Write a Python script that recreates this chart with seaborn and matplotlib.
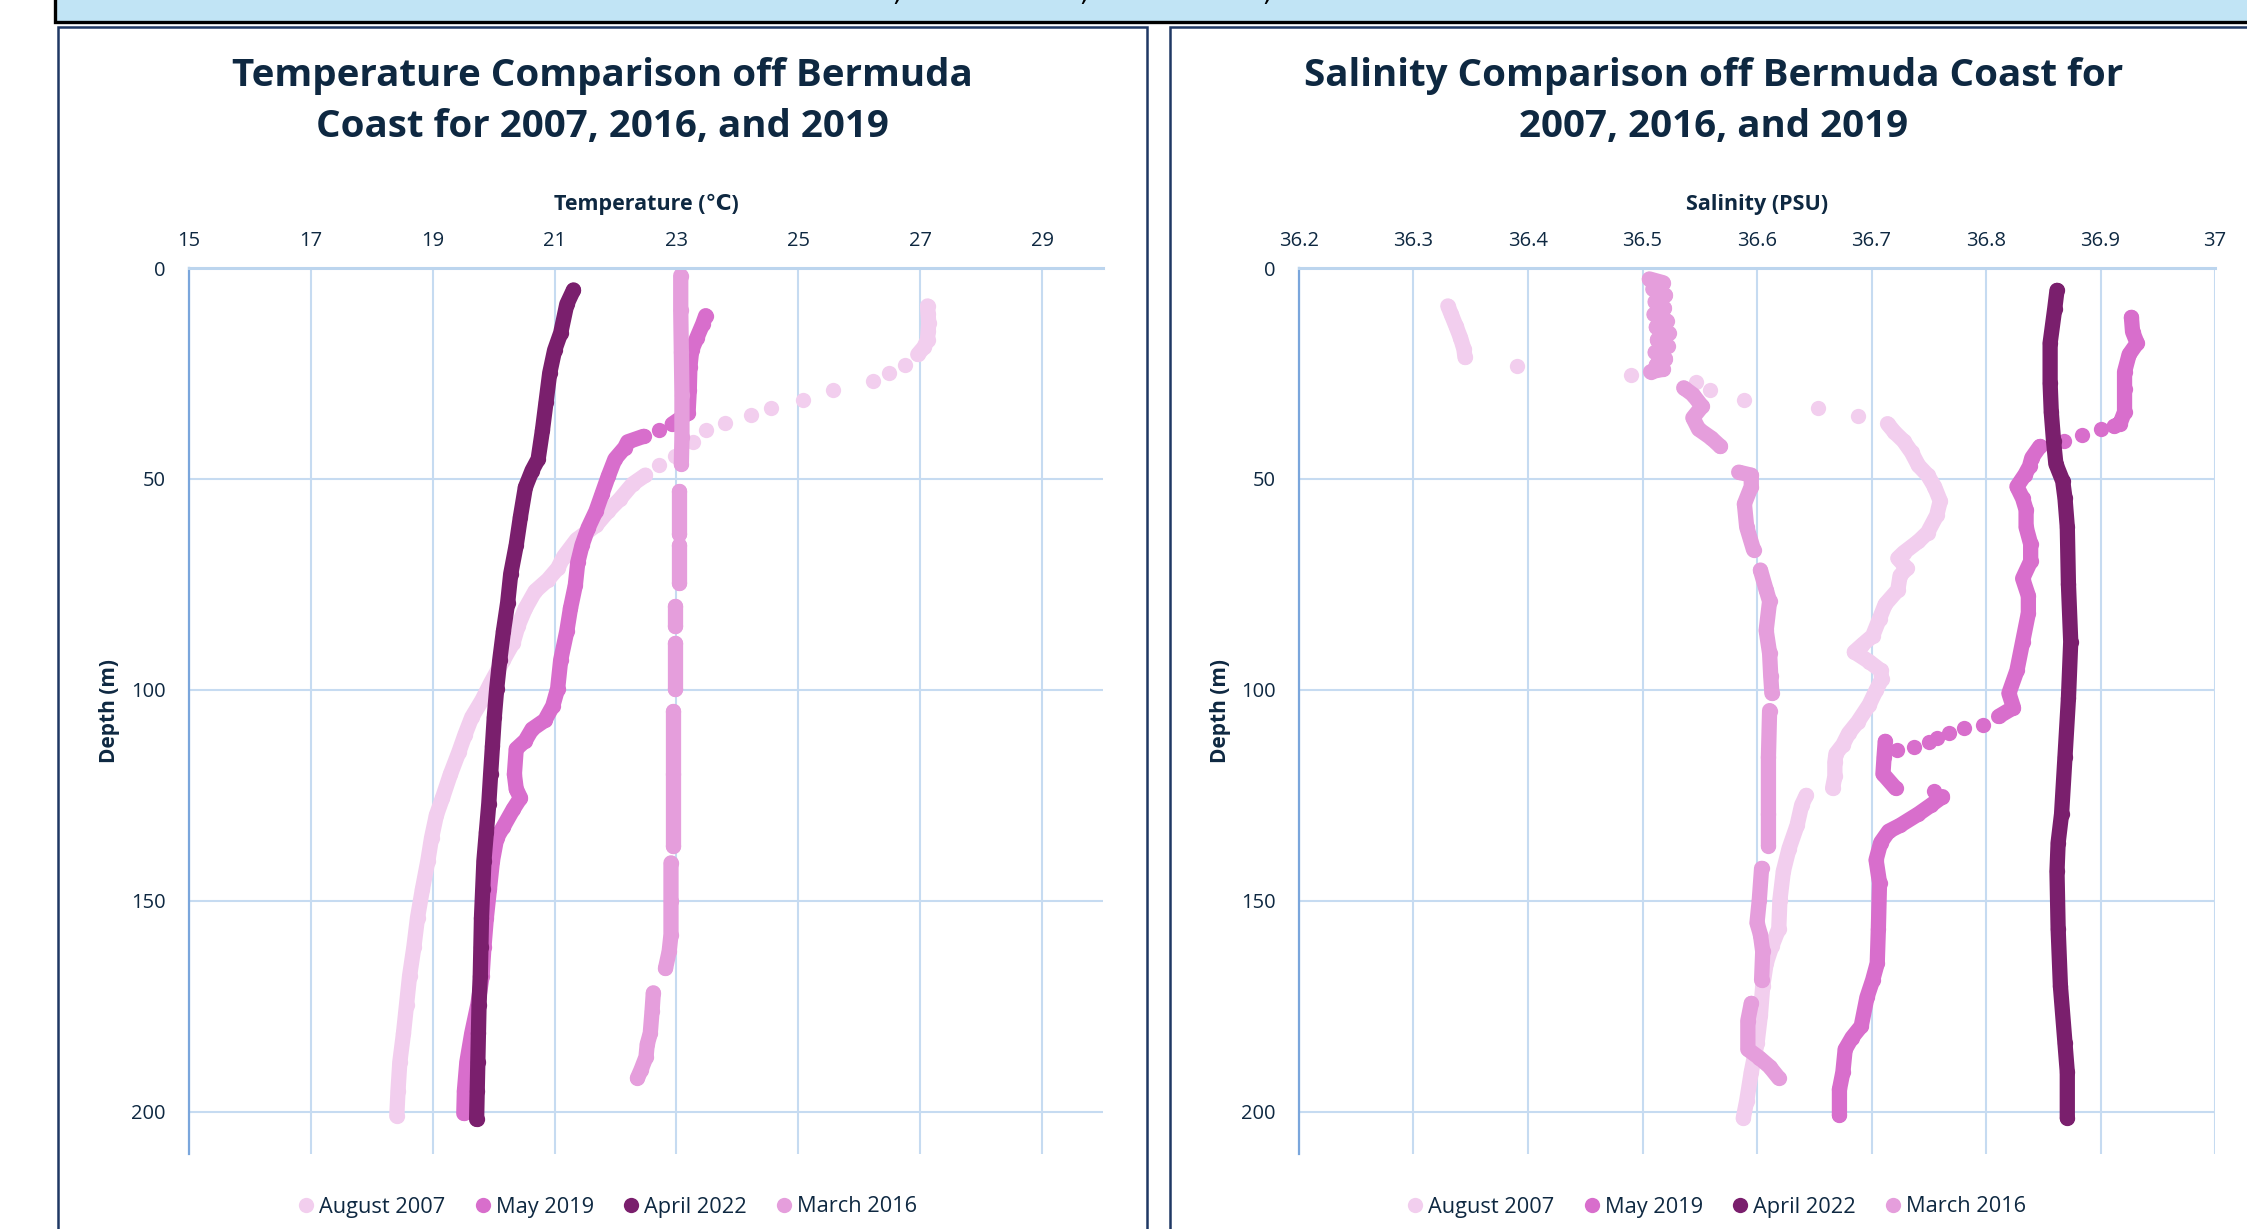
import numpy as np
import pandas as pd
import matplotlib
matplotlib.use("Agg")
import matplotlib.pyplot as plt
from matplotlib.patches import Rectangle
from matplotlib.lines import Line2D
import seaborn as sns

# ------------------------------------------------------------------ data
series_names = ["August 2007", "May 2019", "April 2022", "March 2016"]
series_colors = ["#F2CEEE", "#D86ECC", "#7A1F6D", "#E59EDC"]

temp_ticks = [15, 17, 19, 21, 23, 25, 27, 29]
sal_ticks = [36.2, 36.3, 36.4, 36.5, 36.6, 36.7, 36.8, 36.9, 37.0]
sal_tick_labels = ["36.2", "36.3", "36.4", "36.5", "36.6", "36.7", "36.8", "36.9", "37"]
depth_ticks = [0, 50, 100, 150, 200]

# None marks a break in the cast (gap between recorded points)
aug2007_temp_depth = [9, 11, 13, 15, 17, 18.8, 20.5, None, 23.1, None, 24.9, None, 26.9, None, 29, None,
                      31.2, None, 33.1, None, 34.8, None, 36.7, None, 38.5, None, 41.2, None, 44.6, None,
                      46.7, None, 49.1, 51.2, 54.8, 57.6, 61, 64.4, 68.4, 71.2, 73.9, 76.6, 80.7, 84.8,
                      88.8, 92.9, 98.4, 102.4, 106.5, 110.6, 114.7, 120, 125.6, 129.7, 135.1, 140.5,
                      147.3, 154, 161, 167.8, 174.6, 181.4, 188.2, 195, 201]
aug2007_temp_c = [27.12, 27.13, 27.14, 27.13, 27.12, 27.06, 26.96, None, 26.75, None, 26.49, None, 26.23, None,
                  25.57, None, 25.08, None, 24.55, None, 24.22, None, 23.80, None, 23.48, None, 23.27, None,
                  22.98, None, 22.72, None, 22.49, 22.28, 22.07, 21.88, 21.68, 21.36, 21.15, 21.05, 20.89,
                  20.68, 20.52, 20.40, 20.32, 20.16, 19.95, 19.81, 19.64, 19.53, 19.43, 19.29, 19.16, 19.06,
                  18.98, 18.92, 18.83, 18.75, 18.69, 18.62, 18.57, 18.52, 18.46, 18.43, 18.41]

may2019_temp_depth = [11.3, 13.3, 16.7, 19.5, 23.5, 29, 34.4, 37, None, 38.5, None, 39.9, 41.2, 42.6, 45.3,
                      49.4, 53.5, 57.6, 61.6, 65.7, 69.8, 75.2, 80.7, 86.1, 92.9, 99.7, 103.8, 107.2,
                      109.3, 112, 114, 120, 123.5, 125.6, 128.3, 132.4, 135.1, 140.5, 147.3, 154, 161,
                      167.8, 174.6, 181.4, 188.2, 195, 200.4]
may2019_temp_c = [23.48, 23.43, 23.33, 23.25, 23.22, 23.21, 23.19, 22.93, None, 22.72, None, 22.46, 22.20,
                  22.15, 21.99, 21.88, 21.78, 21.68, 21.55, 21.45, 21.38, 21.34, 21.26, 21.20, 21.10, 21.05,
                  20.97, 20.84, 20.63, 20.52, 20.37, 20.34, 20.37, 20.44, 20.32, 20.16, 20.05, 19.98, 19.93,
                  19.88, 19.84, 19.81, 19.74, 19.64, 19.56, 19.52, 19.51]

apr2022_temp_depth = [5.2, 8.6, 15.4, 19.5, 24.9, 31.7, 38.5, 45.3, 48, 52, 58.9, 65.7, 72.5, 79.3, 86.1,
                      92.9, 99.7, 106.5, 113.3, 120, 127, 133.7, 140.5, 147.3, 154, 161, 167.8, 174.6,
                      181.4, 188.2, 195, 201.8]
apr2022_temp_c = [21.31, 21.20, 21.10, 21.00, 20.92, 20.86, 20.80, 20.73, 20.63, 20.52, 20.44, 20.37, 20.28,
                  20.23, 20.16, 20.10, 20.05, 20.01, 19.98, 19.95, 19.92, 19.88, 19.84, 19.82, 19.80, 19.79,
                  19.78, 19.76, 19.75, 19.74, 19.73, 19.72]

mar2016_temp_depth = [1.8, 10, 20, 30, 40, 46.5, None, 52.8, 63, None, 65.7, 74.6, None, 80, 84.8, None,
                      88.8, 99.7, None, 105, 120, 137, None, 141, 150, 158, 162, 166, None,
                      171.8, 176, 181.4, 184, 187, 190, 192]
mar2016_temp_c = [23.07, 23.07, 23.08, 23.09, 23.09, 23.08, None, 23.04, 23.04, None, 23.04, 23.04, None,
                  22.98, 22.98, None, 22.98, 22.98, None, 22.95, 22.95, 22.95, None, 22.91, 22.91, 22.91,
                  22.88, 22.82, None, 22.62, 22.60, 22.57, 22.52, 22.50, 22.42, 22.36]

aug2007_sal_depth = [9, 11, 13.7, 16.5, 19.2, 21.2, None, 23.3, None, 25.3, None, 27.1, None, 29, None, 31.4,
                     None, 33.2, None, 35.1, None, 36.9, 38.9, 41, 43.7, 46.8, 49.1, 51.8, 55.2, 58.6, 62.7,
                     64.8, 67.5, 68.8, 71.2, 72.9, 76.3, 79.7, 83.1, 87.2, 89.3, 91, 93.3, 95.4, 97.4,
                     100.1, 103.5, 107.6, 110.3, 113, 115.1, 117.1, 120.5, 123.3, None, 125, 127.3, 132.1,
                     137.6, 143, 149.8, 156.6, 160.7, 164.8, 170.2, 177, 183.8, 190.6, 197.4, 201.5]
aug2007_sal_psu = [36.330, 36.333, 36.337, 36.341, 36.344, 36.345, None, 36.390, None, 36.490, None, 36.547,
                   None, 36.559, None, 36.589, None, 36.653, None, 36.688, None, 36.714, 36.720, 36.728,
                   36.735, 36.741, 36.749, 36.755, 36.760, 36.757, 36.749, 36.741, 36.728, 36.723, 36.731,
                   36.725, 36.723, 36.712, 36.707, 36.701, 36.692, 36.685, 36.698, 36.708, 36.709, 36.704,
                   36.698, 36.688, 36.680, 36.675, 36.669, 36.668, 36.668, 36.666, None, 36.643, 36.639,
                   36.635, 36.628, 36.623, 36.620, 36.619, 36.613, 36.608, 36.605, 36.603, 36.600, 36.595,
                   36.591, 36.588]

may2019_sal_depth = [11.7, 15.1, 17.8, 20.5, 24.6, 28.7, 34.1, 36.9, 37.5, None, 38.2, None, 39.6, None,
                     40.9, None, 42.3, 45, 47, 49, 51.8, 54.6, 57.3, 61.4, 65.4, 69.5, 73.6, 77.7, 81.8,
                     88.6, 95.4, 100.8, 104.2, 106.3, None, 108.3, None, 109, None, 110.3, None, 111.5,
                     None, 112.4, None, 113.5, None, 114.2, None, 112.2, 115.8, 119.9, 123.3, None,
                     124, None, 125.3, 127.3, 129.4, 132.1, 133.5, 136.2, 140.3, 145.7, 156.6, 164.8,
                     168.8, 172.9, 179.7, 182.4, 185.2, 190.6, 194.7, 200.8]
may2019_sal_psu = [36.927, 36.928, 36.932, 36.925, 36.921, 36.921, 36.921, 36.917, 36.912, None, 36.900,
                   None, 36.884, None, 36.868, None, 36.847, 36.840, 36.838, 36.834, 36.827, 36.832, 36.835,
                   36.835, 36.839, 36.839, 36.832, 36.837, 36.837, 36.832, 36.827, 36.820, 36.824, 36.811,
                   None, 36.797, None, 36.781, None, 36.768, None, 36.757, None, 36.750, None, 36.737,
                   None, 36.722, None, 36.712, 36.711, 36.710, 36.721, None, 36.755, None, 36.762, 36.752,
                   36.741, 36.725, 36.715, 36.708, 36.704, 36.707, 36.706, 36.705, 36.701, 36.696, 36.691,
                   36.683, 36.677, 36.675, 36.672, 36.672]

apr2022_sal_depth = [5.3, 9.7, 17.8, 27.3, 34.1, 41, 46.4, 50.5, 54.6, 61.4, 75, 88.6, 102, 115.8, 129.4,
                     136.2, 143, 156.6, 170.2, 183.8, 190.6, 201.5]
apr2022_sal_psu = [36.862, 36.860, 36.856, 36.856, 36.857, 36.859, 36.861, 36.867, 36.869, 36.871, 36.872,
                   36.874, 36.872, 36.869, 36.866, 36.863, 36.862, 36.863, 36.865, 36.869, 36.871, 36.871]

mar2016_sal_depth = [2.6, 3.5, 5, 6.5, 8, 9.5, 11, 12.5, 14, 15.5, 17, 18.5, 20, 21.5, 23, 24, 24.6, None,
                     28.4, 30, 32.8, 35.5, 38.2, 40.3, 42.3, None, 48.4, 49.1, 51.8, 55.9, 61.4, 66.8, None,
                     71.6, 76.3, 79, 85.9, 91.3, 96.7, 100.8, None, 104.9, 115.8, 129.4, 136.9, None,
                     142.3, 149.8, 155.2, 158, 162, 168.8, None, 174.3, 178.4, 185.2, 187.2, 189.3, 192]
mar2016_sal_psu = [36.506, 36.518, 36.509, 36.520, 36.511, 36.519, 36.510, 36.521, 36.512, 36.523, 36.513,
                   36.522, 36.511, 36.520, 36.512, 36.518, 36.507, None,
                   36.536, 36.544, 36.552, 36.544, 36.549, 36.560, 36.568, None,
                   36.584, 36.595, 36.595, 36.589, 36.591, 36.597, None, 36.603, 36.608, 36.611, 36.608,
                   36.611, 36.612, 36.613, None, 36.611, 36.610, 36.610, 36.610, None, 36.604, 36.602,
                   36.600, 36.603, 36.605, 36.604, None, 36.595, 36.592, 36.592, 36.602, 36.611, 36.619]

# ------------------------------------------------------------------ helpers
W, H = 2247, 1229
TEXT = "#0E2841"
GRID = "#C6DBF1"
FRAME = "#1F3864"
LW = 11.0


def long_table(pairs):
    rows = []
    for name, (depths, values) in zip(series_names, pairs):
        seg = 0
        for d, v in zip(depths, values):
            if d is None or v is None:
                seg += 1
                continue
            rows.append({"series": name, "segment": f"{name}-{seg}", "depth": d, "value": v})
    return pd.DataFrame(rows)


temp_df = long_table([(aug2007_temp_depth, aug2007_temp_c), (may2019_temp_depth, may2019_temp_c),
                      (apr2022_temp_depth, apr2022_temp_c), (mar2016_temp_depth, mar2016_temp_c)])
sal_df = long_table([(aug2007_sal_depth, aug2007_sal_psu), (may2019_sal_depth, may2019_sal_psu),
                     (apr2022_sal_depth, apr2022_sal_psu), (mar2016_sal_depth, mar2016_sal_psu)])

sns.set_style("white")
plt.rcParams["font.family"] = ["Open Sans", "DejaVu Sans"]

fig = plt.figure(figsize=(W / 100, H / 100), dpi=100)
fig.patch.set_facecolor("white")


def px_rect(x0, y0, x1, y1, **kw):
    return Rectangle((x0 / W, 1 - y1 / H), (x1 - x0) / W, (y1 - y0) / H,
                     transform=fig.transFigure, **kw)


# banner at top and chart frames
fig.patches.append(px_rect(55, -20, 2270, 22, facecolor="#C1E4F5", edgecolor="black", linewidth=2.4))
fig.patches.append(px_rect(58, 27, 1147, 1260, facecolor="none", edgecolor=FRAME, linewidth=1.8))
fig.patches.append(px_rect(1170, 27, 2260, 1260, facecolor="none", edgecolor=FRAME, linewidth=1.8))
for cx in (899, 1086, 1269):
    fig.text(cx / W, 1.0, ",", fontsize=22, style="italic", color="black", ha="center", va="baseline")


def add_axes(l, t, r, b):
    return fig.add_axes([l / W, 1 - b / H, (r - l) / W, (b - t) / H])


def draw_panel(ax, df, xlim, xticks, xticklabels, xlabel, title, frame_cx, legend_cx, ylab_x):
    sns.lineplot(data=df, x="value", y="depth", hue="series", hue_order=series_names,
                 palette=series_colors, units="segment", estimator=None, sort=False,
                 linewidth=LW, marker="o", markersize=LW, markeredgewidth=0,
                 solid_capstyle="round", solid_joinstyle="round", legend=False, ax=ax)
    ax.set_xlim(*xlim)
    ax.set_ylim(210, 0)
    ax.xaxis.tick_top()
    ax.xaxis.set_label_position("top")
    ax.set_xticks(xticks)
    ax.set_xticklabels(xticklabels)
    ax.set_yticks(depth_ticks)
    ax.set_yticklabels([str(v) for v in depth_ticks])
    ax.grid(True, color=GRID, linewidth=1.5)
    ax.set_axisbelow(True)
    ax.tick_params(axis="x", length=0, pad=12, labelsize=14.5, colors=TEXT)
    ax.tick_params(axis="y", length=0, pad=17, labelsize=14.5, colors=TEXT)
    for side in ("bottom", "right"):
        ax.spines[side].set_visible(False)
    ax.spines["top"].set_color("#BCD5EE")
    ax.spines["top"].set_linewidth(2.2)
    ax.spines["left"].set_color("#7AA6DC")
    ax.spines["left"].set_linewidth(1.6)
    ax.set_xlabel(xlabel, fontsize=15.5, fontweight="bold", color=TEXT)
    ax.xaxis.set_label_coords(0.5, 1.065)
    ax.set_ylabel("Depth (m)", fontsize=15, fontweight="bold", color=TEXT)
    ax.yaxis.set_label_coords(ylab_x, 0.5)
    fig.text(frame_cx / W, 1 - 101.5 / H, title, ha="center", va="center", fontsize=27.7,
             fontweight="bold", color=TEXT, linespacing=1.47)
    handles = [Line2D([], [], marker="o", linestyle="", color=c, markersize=11, markeredgewidth=0)
               for c in series_colors]
    ax.legend(handles, series_names, loc="center", ncol=4, frameon=False,
              bbox_to_anchor=(legend_cx / W, 1 - 1207 / H), bbox_transform=fig.transFigure,
              fontsize=15.7, labelcolor=TEXT, handletextpad=0.1, columnspacing=1.2,
              handlelength=1.0)


ax_t = add_axes(189, 268, 1103, 1154)
draw_panel(ax_t, temp_df, (15, 30), temp_ticks, [str(t) for t in temp_ticks], "Temperature (\u2103)",
           "Temperature Comparison off Bermuda\nCoast for 2007, 2016, and 2019", 602, 606, -0.076)

ax_s = add_axes(1299, 268, 2215, 1154)
draw_panel(ax_s, sal_df, (36.2, 37.0), sal_ticks, sal_tick_labels, "Salinity (PSU)",
           "Salinity Comparison off Bermuda Coast for\n2007, 2016, and 2019", 1714, 1715, -0.074)

fig.savefig("out.png", dpi=100, facecolor="white")
